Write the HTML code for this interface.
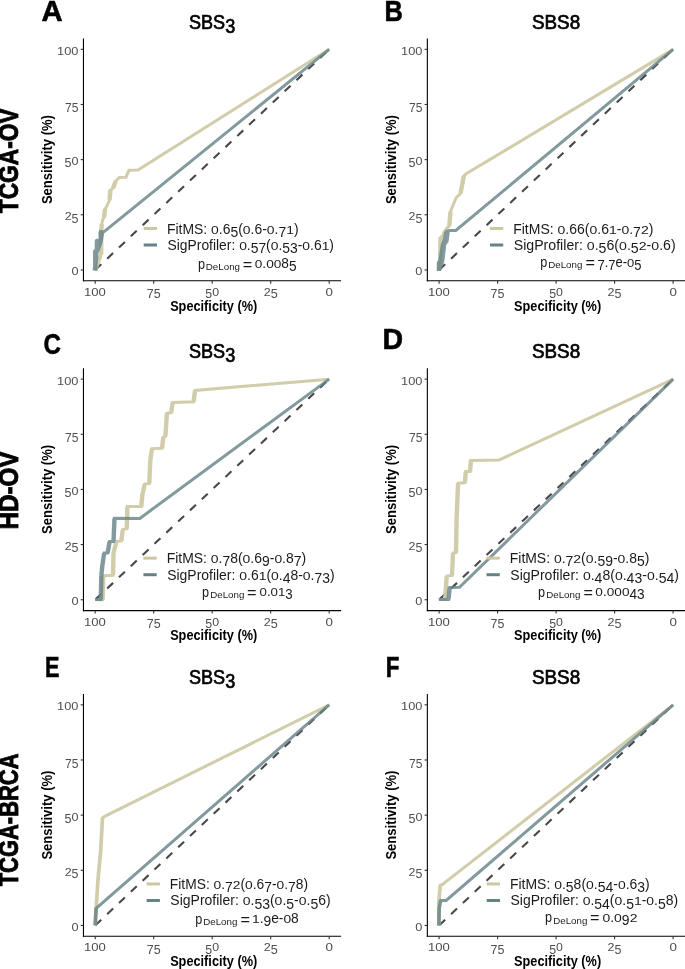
<!DOCTYPE html><html><head><meta charset="utf-8"><style>html,body{margin:0;padding:0;background:#fff}svg{display:block}text{font-kerning:none}</style></head><body><svg width="685" height="969" viewBox="0 0 685 969"><rect width="685" height="969" fill="#fff"/><line x1="83.45" y1="38.4" x2="83.45" y2="281.35" stroke="#000" stroke-width="1.1"/>
<line x1="82.9" y1="280.8" x2="341.1" y2="280.8" stroke="#000" stroke-width="1.1"/>
<line x1="80.7" y1="269.95" x2="83.45" y2="269.95" stroke="#333" stroke-width="1.1"/>
<line x1="95.20" y1="280.8" x2="95.20" y2="283.7" stroke="#333" stroke-width="1.1"/>
<line x1="80.7" y1="214.79" x2="83.45" y2="214.79" stroke="#333" stroke-width="1.1"/>
<line x1="153.70" y1="280.8" x2="153.70" y2="283.7" stroke="#333" stroke-width="1.1"/>
<line x1="80.7" y1="159.63" x2="83.45" y2="159.63" stroke="#333" stroke-width="1.1"/>
<line x1="212.20" y1="280.8" x2="212.20" y2="283.7" stroke="#333" stroke-width="1.1"/>
<line x1="80.7" y1="104.48" x2="83.45" y2="104.48" stroke="#333" stroke-width="1.1"/>
<line x1="270.70" y1="280.8" x2="270.70" y2="283.7" stroke="#333" stroke-width="1.1"/>
<line x1="80.7" y1="49.32" x2="83.45" y2="49.32" stroke="#333" stroke-width="1.1"/>
<line x1="329.20" y1="280.8" x2="329.20" y2="283.7" stroke="#333" stroke-width="1.1"/>
<line x1="95.20" y1="269.95" x2="329.20" y2="49.32" stroke="#484848" stroke-width="2.1" stroke-dasharray="8.13 8.13" stroke-dashoffset="16.07"/>
<line x1="427.34999999999997" y1="38.4" x2="427.34999999999997" y2="281.35" stroke="#000" stroke-width="1.1"/>
<line x1="426.79999999999995" y1="280.8" x2="685.0" y2="280.8" stroke="#000" stroke-width="1.1"/>
<line x1="424.59999999999997" y1="269.95" x2="427.34999999999997" y2="269.95" stroke="#333" stroke-width="1.1"/>
<line x1="439.10" y1="280.8" x2="439.10" y2="283.7" stroke="#333" stroke-width="1.1"/>
<line x1="424.59999999999997" y1="214.79" x2="427.34999999999997" y2="214.79" stroke="#333" stroke-width="1.1"/>
<line x1="497.60" y1="280.8" x2="497.60" y2="283.7" stroke="#333" stroke-width="1.1"/>
<line x1="424.59999999999997" y1="159.63" x2="427.34999999999997" y2="159.63" stroke="#333" stroke-width="1.1"/>
<line x1="556.10" y1="280.8" x2="556.10" y2="283.7" stroke="#333" stroke-width="1.1"/>
<line x1="424.59999999999997" y1="104.48" x2="427.34999999999997" y2="104.48" stroke="#333" stroke-width="1.1"/>
<line x1="614.60" y1="280.8" x2="614.60" y2="283.7" stroke="#333" stroke-width="1.1"/>
<line x1="424.59999999999997" y1="49.32" x2="427.34999999999997" y2="49.32" stroke="#333" stroke-width="1.1"/>
<line x1="673.10" y1="280.8" x2="673.10" y2="283.7" stroke="#333" stroke-width="1.1"/>
<line x1="439.10" y1="269.95" x2="673.10" y2="49.32" stroke="#484848" stroke-width="2.1" stroke-dasharray="8.13 8.13" stroke-dashoffset="16.07"/>
<line x1="83.45" y1="368.2" x2="83.45" y2="611.1500000000001" stroke="#000" stroke-width="1.1"/>
<line x1="82.9" y1="610.6" x2="341.1" y2="610.6" stroke="#000" stroke-width="1.1"/>
<line x1="80.7" y1="599.75" x2="83.45" y2="599.75" stroke="#333" stroke-width="1.1"/>
<line x1="95.20" y1="610.6" x2="95.20" y2="613.5" stroke="#333" stroke-width="1.1"/>
<line x1="80.7" y1="544.59" x2="83.45" y2="544.59" stroke="#333" stroke-width="1.1"/>
<line x1="153.70" y1="610.6" x2="153.70" y2="613.5" stroke="#333" stroke-width="1.1"/>
<line x1="80.7" y1="489.44" x2="83.45" y2="489.44" stroke="#333" stroke-width="1.1"/>
<line x1="212.20" y1="610.6" x2="212.20" y2="613.5" stroke="#333" stroke-width="1.1"/>
<line x1="80.7" y1="434.28" x2="83.45" y2="434.28" stroke="#333" stroke-width="1.1"/>
<line x1="270.70" y1="610.6" x2="270.70" y2="613.5" stroke="#333" stroke-width="1.1"/>
<line x1="80.7" y1="379.12" x2="83.45" y2="379.12" stroke="#333" stroke-width="1.1"/>
<line x1="329.20" y1="610.6" x2="329.20" y2="613.5" stroke="#333" stroke-width="1.1"/>
<line x1="95.20" y1="599.75" x2="329.20" y2="379.12" stroke="#484848" stroke-width="2.1" stroke-dasharray="8.13 8.13" stroke-dashoffset="16.07"/>
<line x1="427.34999999999997" y1="368.2" x2="427.34999999999997" y2="611.1500000000001" stroke="#000" stroke-width="1.1"/>
<line x1="426.79999999999995" y1="610.6" x2="685.0" y2="610.6" stroke="#000" stroke-width="1.1"/>
<line x1="424.59999999999997" y1="599.75" x2="427.34999999999997" y2="599.75" stroke="#333" stroke-width="1.1"/>
<line x1="439.10" y1="610.6" x2="439.10" y2="613.5" stroke="#333" stroke-width="1.1"/>
<line x1="424.59999999999997" y1="544.59" x2="427.34999999999997" y2="544.59" stroke="#333" stroke-width="1.1"/>
<line x1="497.60" y1="610.6" x2="497.60" y2="613.5" stroke="#333" stroke-width="1.1"/>
<line x1="424.59999999999997" y1="489.44" x2="427.34999999999997" y2="489.44" stroke="#333" stroke-width="1.1"/>
<line x1="556.10" y1="610.6" x2="556.10" y2="613.5" stroke="#333" stroke-width="1.1"/>
<line x1="424.59999999999997" y1="434.28" x2="427.34999999999997" y2="434.28" stroke="#333" stroke-width="1.1"/>
<line x1="614.60" y1="610.6" x2="614.60" y2="613.5" stroke="#333" stroke-width="1.1"/>
<line x1="424.59999999999997" y1="379.12" x2="427.34999999999997" y2="379.12" stroke="#333" stroke-width="1.1"/>
<line x1="673.10" y1="610.6" x2="673.10" y2="613.5" stroke="#333" stroke-width="1.1"/>
<line x1="439.10" y1="599.75" x2="673.10" y2="379.12" stroke="#484848" stroke-width="2.1" stroke-dasharray="8.13 8.13" stroke-dashoffset="16.07"/>
<line x1="83.45" y1="693.9" x2="83.45" y2="936.85" stroke="#000" stroke-width="1.1"/>
<line x1="82.9" y1="936.3" x2="341.1" y2="936.3" stroke="#000" stroke-width="1.1"/>
<line x1="80.7" y1="925.45" x2="83.45" y2="925.45" stroke="#333" stroke-width="1.1"/>
<line x1="95.20" y1="936.3" x2="95.20" y2="939.2" stroke="#333" stroke-width="1.1"/>
<line x1="80.7" y1="870.29" x2="83.45" y2="870.29" stroke="#333" stroke-width="1.1"/>
<line x1="153.70" y1="936.3" x2="153.70" y2="939.2" stroke="#333" stroke-width="1.1"/>
<line x1="80.7" y1="815.13" x2="83.45" y2="815.13" stroke="#333" stroke-width="1.1"/>
<line x1="212.20" y1="936.3" x2="212.20" y2="939.2" stroke="#333" stroke-width="1.1"/>
<line x1="80.7" y1="759.98" x2="83.45" y2="759.98" stroke="#333" stroke-width="1.1"/>
<line x1="270.70" y1="936.3" x2="270.70" y2="939.2" stroke="#333" stroke-width="1.1"/>
<line x1="80.7" y1="704.82" x2="83.45" y2="704.82" stroke="#333" stroke-width="1.1"/>
<line x1="329.20" y1="936.3" x2="329.20" y2="939.2" stroke="#333" stroke-width="1.1"/>
<line x1="95.20" y1="925.45" x2="329.20" y2="704.82" stroke="#484848" stroke-width="2.1" stroke-dasharray="8.13 8.13" stroke-dashoffset="16.07"/>
<line x1="427.34999999999997" y1="693.9" x2="427.34999999999997" y2="936.85" stroke="#000" stroke-width="1.1"/>
<line x1="426.79999999999995" y1="936.3" x2="685.0" y2="936.3" stroke="#000" stroke-width="1.1"/>
<line x1="424.59999999999997" y1="925.45" x2="427.34999999999997" y2="925.45" stroke="#333" stroke-width="1.1"/>
<line x1="439.10" y1="936.3" x2="439.10" y2="939.2" stroke="#333" stroke-width="1.1"/>
<line x1="424.59999999999997" y1="870.29" x2="427.34999999999997" y2="870.29" stroke="#333" stroke-width="1.1"/>
<line x1="497.60" y1="936.3" x2="497.60" y2="939.2" stroke="#333" stroke-width="1.1"/>
<line x1="424.59999999999997" y1="815.13" x2="427.34999999999997" y2="815.13" stroke="#333" stroke-width="1.1"/>
<line x1="556.10" y1="936.3" x2="556.10" y2="939.2" stroke="#333" stroke-width="1.1"/>
<line x1="424.59999999999997" y1="759.98" x2="427.34999999999997" y2="759.98" stroke="#333" stroke-width="1.1"/>
<line x1="614.60" y1="936.3" x2="614.60" y2="939.2" stroke="#333" stroke-width="1.1"/>
<line x1="424.59999999999997" y1="704.82" x2="427.34999999999997" y2="704.82" stroke="#333" stroke-width="1.1"/>
<line x1="673.10" y1="936.3" x2="673.10" y2="939.2" stroke="#333" stroke-width="1.1"/>
<line x1="439.10" y1="925.45" x2="673.10" y2="704.82" stroke="#484848" stroke-width="2.1" stroke-dasharray="8.13 8.13" stroke-dashoffset="16.07"/>
<path d="M95.20,270.00 L97.50,263.60 L100.20,256.00 L101.20,254.50 L101.20,231.00 L101.80,224.00 L102.60,220.00 L104.00,217.50 L105.10,209.00 L106.80,206.00 L109.50,200.00 L110.40,190.00 L113.00,188.30 L115.70,181.00 L119.50,177.40 L126.00,177.20 L129.00,170.30 L138.00,170.00 L329.20,49.35 M94.50,270.00 L96.80,263.60 M95.90,270.00 L98.20,263.60 M96.80,263.60 L99.50,256.00 M98.20,263.60 L100.90,256.00 M100.50,254.50 L100.50,231.00 M101.90,254.50 L101.90,231.00 M100.50,231.00 L101.10,224.00 M101.90,231.00 L102.50,224.00 M103.30,217.50 L104.40,209.00 M104.70,217.50 L105.80,209.00 M108.80,200.00 L109.70,190.00 M110.20,200.00 L111.10,190.00 M112.30,188.30 L115.00,181.00 M113.70,188.30 L116.40,181.00" fill="none" stroke="#ccc7a0" stroke-width="3" stroke-linejoin="miter" stroke-opacity="0.9"/>
<path d="M438.90,270.00 L440.00,262.00 L440.60,237.50 L442.50,236.00 L444.00,232.00 L447.00,228.00 L449.30,226.00 L450.50,211.50 L452.50,206.50 L456.30,197.50 L460.50,193.50 L462.10,185.00 L463.80,176.00 L466.20,173.80 L673.20,49.35 M438.20,270.00 L439.30,262.00 M439.60,270.00 L440.70,262.00 M439.30,262.00 L439.90,237.50 M440.70,262.00 L441.30,237.50 M448.60,226.00 L449.80,211.50 M450.00,226.00 L451.20,211.50 M459.80,193.50 L461.40,185.00 M461.20,193.50 L462.80,185.00 M461.40,185.00 L463.10,176.00 M462.80,185.00 L464.50,176.00" fill="none" stroke="#ccc7a0" stroke-width="3" stroke-linejoin="miter" stroke-opacity="0.9"/>
<path d="M95.20,599.75 L102.70,599.75 L103.20,575.70 L113.00,575.20 L113.50,553.10 L116.50,541.40 L121.40,540.90 L122.80,529.60 L126.80,528.70 L127.40,506.50 L141.30,506.50 L142.30,495.00 L144.80,484.00 L149.30,483.50 L150.30,460.00 L152.00,448.60 L162.00,448.30 L163.30,437.10 L165.40,436.40 L166.90,413.30 L171.20,412.60 L172.70,402.50 L193.60,401.80 L195.00,390.50 L329.20,379.15 M102.00,599.75 L102.50,575.70 M103.40,599.75 L103.90,575.70 M112.30,575.20 L112.80,553.10 M113.70,575.20 L114.20,553.10 M112.80,553.10 L115.80,541.40 M114.20,553.10 L117.20,541.40 M120.70,540.90 L122.10,529.60 M122.10,540.90 L123.50,529.60 M126.10,528.70 L126.70,506.50 M127.50,528.70 L128.10,506.50 M140.60,506.50 L141.60,495.00 M142.00,506.50 L143.00,495.00 M141.60,495.00 L144.10,484.00 M143.00,495.00 L145.50,484.00 M148.60,483.50 L149.60,460.00 M150.00,483.50 L151.00,460.00 M149.60,460.00 L151.30,448.60 M151.00,460.00 L152.70,448.60 M161.30,448.30 L162.60,437.10 M162.70,448.30 L164.00,437.10 M164.70,436.40 L166.20,413.30 M166.10,436.40 L167.60,413.30 M170.50,412.60 L172.00,402.50 M171.90,412.60 L173.40,402.50 M192.90,401.80 L194.30,390.50 M194.30,401.80 L195.70,390.50" fill="none" stroke="#ccc7a0" stroke-width="3" stroke-linejoin="miter" stroke-opacity="0.9"/>
<path d="M438.90,599.60 L445.00,599.50 L446.80,576.00 L452.00,575.50 L453.00,553.00 L456.00,552.40 L456.60,518.40 L458.10,483.40 L464.90,482.60 L465.80,471.50 L470.00,471.50 L470.90,460.40 L499.00,460.10 L673.20,379.15 M444.30,599.50 L446.10,576.00 M445.70,599.50 L447.50,576.00 M451.30,575.50 L452.30,553.00 M452.70,575.50 L453.70,553.00 M455.30,552.40 L455.90,518.40 M456.70,552.40 L457.30,518.40 M455.90,518.40 L457.40,483.40 M457.30,518.40 L458.80,483.40 M464.20,482.60 L465.10,471.50 M465.60,482.60 L466.50,471.50 M469.30,471.50 L470.20,460.40 M470.70,471.50 L471.60,460.40" fill="none" stroke="#ccc7a0" stroke-width="3" stroke-linejoin="miter" stroke-opacity="0.9"/>
<path d="M95.20,925.45 L96.10,908.40 L98.00,879.50 L100.70,850.50 L102.50,817.90 L105.20,816.10 L329.20,704.85 M94.85,925.45 L95.75,908.40 M95.55,925.45 L96.45,908.40 M95.75,908.40 L97.65,879.50 M96.45,908.40 L98.35,879.50 M97.65,879.50 L100.35,850.50 M98.35,879.50 L101.05,850.50 M100.35,850.50 L102.15,817.90 M101.05,850.50 L102.85,817.90" fill="none" stroke="#ccc7a0" stroke-width="3" stroke-linejoin="miter" stroke-opacity="0.9"/>
<path d="M438.90,925.45 L438.70,903.60 L440.30,885.20 L443.00,884.20 L444.10,883.10 L673.20,704.85 M438.55,925.45 L438.35,903.60 M439.25,925.45 L439.05,903.60 M438.35,903.60 L439.95,885.20 M439.05,903.60 L440.65,885.20" fill="none" stroke="#ccc7a0" stroke-width="3" stroke-linejoin="miter" stroke-opacity="0.9"/>
<path d="M95.20,270.50 L95.20,250.50 L96.90,250.30 L96.90,240.30 L100.70,240.00 L100.70,231.50 L103.20,232.00 M94.50,270.50 L94.50,250.50 M95.90,270.50 L95.90,250.50 M96.20,250.30 L96.20,240.30 M97.60,250.30 L97.60,240.30 M100.00,240.00 L100.00,231.50 M101.40,240.00 L101.40,231.50 M94.90,270.50 L96.40,252.70 L100.40,242.30 L101.90,233.40 L103.20,232.30 L329.20,49.35 M94.20,270.50 L95.70,252.70 M95.60,270.50 L97.10,252.70 M95.70,252.70 L99.70,242.30 M97.10,252.70 L101.10,242.30 M99.70,242.30 L101.20,233.40 M101.10,242.30 L102.60,233.40" fill="none" stroke="#668288" stroke-width="3" stroke-linejoin="miter" stroke-opacity="0.82"/>
<path d="M439.00,271.00 L439.00,262.00 L440.30,261.80 L441.90,252.10 L442.80,245.60 L444.60,240.80 L446.50,231.70 L449.50,230.50 M438.30,271.00 L438.30,262.00 M439.70,271.00 L439.70,262.00 M439.60,261.80 L441.20,252.10 M441.00,261.80 L442.60,252.10 M441.20,252.10 L442.10,245.60 M442.60,252.10 L443.50,245.60 M442.10,245.60 L443.90,240.80 M443.50,245.60 L445.30,240.80 M443.90,240.80 L445.80,231.70 M445.30,240.80 L447.20,231.70 M439.50,269.30 L442.20,260.70 L444.00,245.60 L446.20,242.40 L447.50,232.70 L449.50,230.50 L455.80,230.50 L673.20,49.35 M438.80,269.30 L441.50,260.70 M440.20,269.30 L442.90,260.70 M441.50,260.70 L443.30,245.60 M442.90,260.70 L444.70,245.60 M445.50,242.40 L446.80,232.70 M446.90,242.40 L448.20,232.70" fill="none" stroke="#668288" stroke-width="3" stroke-linejoin="miter" stroke-opacity="0.82"/>
<path d="M95.20,599.50 L100.80,599.50 L101.30,575.70 L102.30,565.90 L104.20,553.10 L107.60,553.10 L109.60,541.40 L113.50,541.40 L114.50,518.30 L139.80,518.40 L329.20,379.15 M100.10,599.50 L100.60,575.70 M101.50,599.50 L102.00,575.70 M100.60,575.70 L101.60,565.90 M102.00,575.70 L103.00,565.90 M101.60,565.90 L103.50,553.10 M103.00,565.90 L104.90,553.10 M106.90,553.10 L108.90,541.40 M108.30,553.10 L110.30,541.40 M112.80,541.40 L113.80,518.30 M114.20,541.40 L115.20,518.30" fill="none" stroke="#668288" stroke-width="3" stroke-linejoin="miter" stroke-opacity="0.82"/>
<path d="M438.90,599.40 L448.50,599.40 L449.70,587.40 L459.50,587.20 L673.20,379.15 M447.80,599.40 L449.00,587.40 M449.20,599.40 L450.40,587.40" fill="none" stroke="#668288" stroke-width="3" stroke-linejoin="miter" stroke-opacity="0.82"/>
<path d="M95.20,925.45 L96.10,908.40 L97.00,907.50 L329.20,704.85 M94.90,925.45 L95.80,908.40 M95.50,925.45 L96.40,908.40" fill="none" stroke="#668288" stroke-width="3" stroke-linejoin="miter" stroke-opacity="0.82"/>
<path d="M438.90,925.45 L439.20,908.00 L440.80,900.40 L446.20,900.40 L673.20,704.85 M438.60,925.45 L438.90,908.00 M439.20,925.45 L439.50,908.00 M438.90,908.00 L440.50,900.40 M439.50,908.00 L441.10,900.40" fill="none" stroke="#668288" stroke-width="3" stroke-linejoin="miter" stroke-opacity="0.82"/>
<line x1="143.70" y1="228.45" x2="157.00" y2="228.45" stroke="#ccc7a0" stroke-width="3"/>
<line x1="143.70" y1="245.0" x2="157.00" y2="245.0" stroke="#668288" stroke-width="3"/>
<line x1="489.95" y1="228.45" x2="503.25" y2="228.45" stroke="#ccc7a0" stroke-width="3"/>
<line x1="489.95" y1="245.0" x2="503.25" y2="245.0" stroke="#668288" stroke-width="3"/>
<line x1="143.40" y1="558.15" x2="156.70" y2="558.15" stroke="#ccc7a0" stroke-width="3"/>
<line x1="143.40" y1="574.7" x2="156.70" y2="574.7" stroke="#668288" stroke-width="3"/>
<line x1="486.50" y1="558.15" x2="499.80" y2="558.15" stroke="#ccc7a0" stroke-width="3"/>
<line x1="486.50" y1="574.7" x2="499.80" y2="574.7" stroke="#668288" stroke-width="3"/>
<line x1="146.60" y1="883.95" x2="159.90" y2="883.95" stroke="#ccc7a0" stroke-width="3"/>
<line x1="146.60" y1="900.5" x2="159.90" y2="900.5" stroke="#668288" stroke-width="3"/>
<line x1="486.70" y1="883.95" x2="500.00" y2="883.95" stroke="#ccc7a0" stroke-width="3"/>
<line x1="486.70" y1="900.5" x2="500.00" y2="900.5" stroke="#668288" stroke-width="3"/>
<g opacity="0.999"><g transform="translate(41.57 20.80) scale(0.9674 1)" font-family="'Liberation Sans', sans-serif" font-weight="bold" font-size="30.2" fill="#000" stroke="#000" stroke-width="0.6"><text x="0.00" y="0" xml:space="preserve">A</text></g>
<g transform="translate(384.40 20.70) scale(0.8416 1)" font-family="'Liberation Sans', sans-serif" font-weight="bold" font-size="30.2" fill="#000" stroke="#000" stroke-width="0.6"><text x="0.00" y="0" xml:space="preserve">B</text></g>
<g transform="translate(43.61 353.80) scale(0.8002 1)" font-family="'Liberation Sans', sans-serif" font-weight="bold" font-size="30.2" fill="#000" stroke="#000" stroke-width="0.6"><text x="0.00" y="0" xml:space="preserve">C</text></g>
<g transform="translate(382.49 349.10) scale(0.9449 1)" font-family="'Liberation Sans', sans-serif" font-weight="bold" font-size="30.2" fill="#000" stroke="#000" stroke-width="0.6"><text x="0.00" y="0" xml:space="preserve">D</text></g>
<g transform="translate(44.95 676.50) scale(0.7201 1)" font-family="'Liberation Sans', sans-serif" font-weight="bold" font-size="30.2" fill="#000" stroke="#000" stroke-width="0.6"><text x="0.00" y="0" xml:space="preserve">E</text></g>
<g transform="translate(385.80 676.50) scale(0.7441 1)" font-family="'Liberation Sans', sans-serif" font-weight="bold" font-size="30.2" fill="#000" stroke="#000" stroke-width="0.6"><text x="0.00" y="0" xml:space="preserve">F</text></g>
<g transform="translate(17.85 213.21) rotate(-90) scale(0.8334 1)" font-family="'Liberation Sans', sans-serif" font-weight="bold" font-size="27.3" fill="#000" stroke="#000" stroke-width="0.9"><text x="0.00 16.68 36.39 57.63 77.34 86.43 107.67" y="0" xml:space="preserve">TCGA-OV</text></g>
<g transform="translate(17.65 529.57) rotate(-90) scale(0.8889 1)" font-family="'Liberation Sans', sans-serif" font-weight="bold" font-size="27.3" fill="#000" stroke="#000" stroke-width="0.9"><text x="0.00 19.72 39.43 48.52 69.76" y="0" xml:space="preserve">HD-OV</text></g>
<g transform="translate(17.55 886.30) rotate(-90) scale(0.8036 1)" font-family="'Liberation Sans', sans-serif" font-weight="bold" font-size="27.3" fill="#000" stroke="#000" stroke-width="0.9"><text x="0.00 16.68 36.39 57.63 77.34 86.43 106.15 125.86 145.58" y="0" xml:space="preserve">TCGA-BRCA</text></g>
<g transform="translate(188.98 28.70) scale(0.9268 1)" font-family="'Liberation Sans', sans-serif" font-weight="normal" font-size="19.5" fill="#000" stroke="#000" stroke-width="0.7"><text x="0.00 13.01 26.01" y="0" xml:space="preserve">SBS</text><text x="39.02" y="4.16">3</text></g>
<g transform="translate(170.13 310.50) scale(0.9103 1)" font-family="'Liberation Sans', sans-serif" font-weight="bold" font-size="14" fill="#000"><text x="0.00 9.34 17.89 25.68 33.46 37.35 42.01 45.90 53.69 57.58 62.24 70.03 73.92 78.58 91.03" y="0" xml:space="preserve">Specificity (%)</text></g>
<g transform="translate(51.60 204.08) rotate(-90) scale(0.9303 1)" font-family="'Liberation Sans', sans-serif" font-weight="bold" font-size="14" fill="#000"><text x="0.00 9.34 17.12 25.68 33.46 37.35 42.01 45.90 53.69 57.58 62.24 70.03 73.92 78.58 91.03" y="0" xml:space="preserve">Sensitivity (%)</text></g>
<g transform="translate(71.40 275.35) scale(0.9741 1)" font-family="'Liberation Sans', sans-serif" font-weight="normal" font-size="13.1" fill="#4f4f4f"><text transform="translate(0.00 0) scale(1 0.78)" y="0">0</text></g>
<g transform="translate(64.67 220.19) scale(0.9504 1)" font-family="'Liberation Sans', sans-serif" font-weight="normal" font-size="13.1" fill="#4f4f4f"><text transform="translate(0.00 0) scale(1 0.78)" y="0">2</text><text x="7.29" y="2.43">5</text></g>
<g transform="translate(64.50 165.03) scale(0.9605 1)" font-family="'Liberation Sans', sans-serif" font-weight="normal" font-size="13.1" fill="#4f4f4f"><text x="0.00" y="2.43">5</text><text transform="translate(7.29 0) scale(1 0.78)" y="0">0</text></g>
<g transform="translate(65.08 109.88) scale(0.9214 1)" font-family="'Liberation Sans', sans-serif" font-weight="normal" font-size="13.1" fill="#4f4f4f"><text x="0.00" y="2.43">7</text><text x="7.29" y="2.43">5</text></g>
<g transform="translate(57.12 54.72) scale(0.9780 1)" font-family="'Liberation Sans', sans-serif" font-weight="normal" font-size="13.1" fill="#4f4f4f"><text transform="translate(0.00 0) scale(1 0.78)" y="0">1</text><text transform="translate(7.29 0) scale(1 0.78)" y="0">0</text><text transform="translate(14.57 0) scale(1 0.78)" y="0">0</text></g>
<g transform="translate(84.00 295.70) scale(1.0026 1)" font-family="'Liberation Sans', sans-serif" font-weight="normal" font-size="13.1" fill="#4f4f4f"><text transform="translate(0.00 0) scale(1 0.78)" y="0">1</text><text transform="translate(7.29 0) scale(1 0.78)" y="0">0</text><text transform="translate(14.57 0) scale(1 0.78)" y="0">0</text></g>
<g transform="translate(146.71 295.70) scale(0.9513 1)" font-family="'Liberation Sans', sans-serif" font-weight="normal" font-size="13.1" fill="#4f4f4f"><text x="0.00" y="2.43">7</text><text x="7.29" y="2.43">5</text></g>
<g transform="translate(205.30 295.70) scale(0.9457 1)" font-family="'Liberation Sans', sans-serif" font-weight="normal" font-size="13.1" fill="#4f4f4f"><text x="0.00" y="2.43">5</text><text transform="translate(7.29 0) scale(1 0.78)" y="0">0</text></g>
<g transform="translate(263.67 295.70) scale(0.9579 1)" font-family="'Liberation Sans', sans-serif" font-weight="normal" font-size="13.1" fill="#4f4f4f"><text transform="translate(0.00 0) scale(1 0.78)" y="0">2</text><text x="7.29" y="2.43">5</text></g>
<g transform="translate(325.48 295.70) scale(1.0220 1)" font-family="'Liberation Sans', sans-serif" font-weight="normal" font-size="13.1" fill="#4f4f4f"><text transform="translate(0.00 0) scale(1 0.78)" y="0">0</text></g>
<g transform="translate(166.96 233.50) scale(0.9128 1)" font-family="'Liberation Sans', sans-serif" font-weight="normal" font-size="15.26" fill="#1a1a1a"><text x="0.00 9.32 12.71 16.95 29.66 39.84 44.08" y="0" xml:space="preserve">FitMS: </text><text transform="translate(48.32 0) scale(1 0.7)" y="0">0</text><text x="56.81 61.05" y="0" xml:space="preserve">.6</text><text x="69.53" y="3.25">5</text><text x="78.02" y="0" xml:space="preserve">(</text><text transform="translate(83.10 0) scale(1 0.7)" y="0">0</text><text x="91.59 95.83 104.32" y="0" xml:space="preserve">.6-</text><text transform="translate(109.40 0) scale(1 0.7)" y="0">0</text><text x="117.88" y="0" xml:space="preserve">.</text><text x="122.12" y="3.25">7</text><text transform="translate(130.61 0) scale(1 0.7)" y="0">1</text><text x="139.10" y="0" xml:space="preserve">)</text></g>
<g transform="translate(167.47 249.80) scale(0.9087 1)" font-family="'Liberation Sans', sans-serif" font-weight="normal" font-size="15.26" fill="#1a1a1a"><text x="0.00 10.18 13.57 22.06 32.23 37.32 45.80 50.04 53.43 56.82 65.31 70.39 74.63" y="0" xml:space="preserve">SigProfiler: </text><text transform="translate(78.87 0) scale(1 0.7)" y="0">0</text><text x="87.36" y="0" xml:space="preserve">.</text><text x="91.60" y="3.25">5</text><text x="100.08" y="3.25">7</text><text x="108.57" y="0" xml:space="preserve">(</text><text transform="translate(113.65 0) scale(1 0.7)" y="0">0</text><text x="122.14" y="0" xml:space="preserve">.</text><text x="126.38" y="3.25">5</text><text x="134.87" y="3.25">3</text><text x="143.35" y="0" xml:space="preserve">-</text><text transform="translate(148.43 0) scale(1 0.7)" y="0">0</text><text x="156.92 161.16" y="0" xml:space="preserve">.6</text><text transform="translate(169.65 0) scale(1 0.7)" y="0">1</text><text x="178.14" y="0" xml:space="preserve">)</text></g>
<g transform="translate(197.88 268.70) scale(0.9054 1)" font-family="'Liberation Sans', sans-serif" font-weight="normal" font-size="14.0" fill="#1a1a1a"><text x="0.00" y="0" xml:space="preserve">p</text></g>
<g transform="translate(205.80 269.90) scale(1.0980 1)" font-family="'Liberation Sans', sans-serif" font-weight="normal" font-size="8.9" fill="#222"><text x="0.00 6.43 11.38 16.33 21.28 26.23" y="0" xml:space="preserve">DeLong</text></g>
<g transform="translate(242.71 269.60) scale(1.0656 1)" font-family="'Liberation Sans', sans-serif" font-weight="normal" font-size="15.26" fill="#1a1a1a"><text x="0.00" y="0" xml:space="preserve">=</text></g>
<g transform="translate(254.77 268.10) scale(0.8957 1)" font-family="'Liberation Sans', sans-serif" font-weight="normal" font-size="15.26" fill="#1a1a1a"><text transform="translate(0.00 0) scale(1 0.7)" y="0">0</text><text x="8.49" y="0" xml:space="preserve">.</text><text transform="translate(12.73 0) scale(1 0.7)" y="0">0</text><text transform="translate(21.21 0) scale(1 0.7)" y="0">0</text><text x="29.70" y="0" xml:space="preserve">8</text><text x="38.19" y="3.25">5</text></g>
<g transform="translate(531.94 28.70) scale(0.9682 1)" font-family="'Liberation Sans', sans-serif" font-weight="normal" font-size="19.5" fill="#000" stroke="#000" stroke-width="0.7"><text x="0.00 13.01 26.01 39.02" y="0" xml:space="preserve">SBS8</text></g>
<g transform="translate(514.03 310.50) scale(0.9103 1)" font-family="'Liberation Sans', sans-serif" font-weight="bold" font-size="14" fill="#000"><text x="0.00 9.34 17.89 25.68 33.46 37.35 42.01 45.90 53.69 57.58 62.24 70.03 73.92 78.58 91.03" y="0" xml:space="preserve">Specificity (%)</text></g>
<g transform="translate(395.50 204.08) rotate(-90) scale(0.9303 1)" font-family="'Liberation Sans', sans-serif" font-weight="bold" font-size="14" fill="#000"><text x="0.00 9.34 17.12 25.68 33.46 37.35 42.01 45.90 53.69 57.58 62.24 70.03 73.92 78.58 91.03" y="0" xml:space="preserve">Sensitivity (%)</text></g>
<g transform="translate(415.30 275.35) scale(0.9741 1)" font-family="'Liberation Sans', sans-serif" font-weight="normal" font-size="13.1" fill="#4f4f4f"><text transform="translate(0.00 0) scale(1 0.78)" y="0">0</text></g>
<g transform="translate(408.57 220.19) scale(0.9504 1)" font-family="'Liberation Sans', sans-serif" font-weight="normal" font-size="13.1" fill="#4f4f4f"><text transform="translate(0.00 0) scale(1 0.78)" y="0">2</text><text x="7.29" y="2.43">5</text></g>
<g transform="translate(408.40 165.03) scale(0.9605 1)" font-family="'Liberation Sans', sans-serif" font-weight="normal" font-size="13.1" fill="#4f4f4f"><text x="0.00" y="2.43">5</text><text transform="translate(7.29 0) scale(1 0.78)" y="0">0</text></g>
<g transform="translate(408.98 109.88) scale(0.9214 1)" font-family="'Liberation Sans', sans-serif" font-weight="normal" font-size="13.1" fill="#4f4f4f"><text x="0.00" y="2.43">7</text><text x="7.29" y="2.43">5</text></g>
<g transform="translate(401.02 54.72) scale(0.9780 1)" font-family="'Liberation Sans', sans-serif" font-weight="normal" font-size="13.1" fill="#4f4f4f"><text transform="translate(0.00 0) scale(1 0.78)" y="0">1</text><text transform="translate(7.29 0) scale(1 0.78)" y="0">0</text><text transform="translate(14.57 0) scale(1 0.78)" y="0">0</text></g>
<g transform="translate(427.90 295.70) scale(1.0026 1)" font-family="'Liberation Sans', sans-serif" font-weight="normal" font-size="13.1" fill="#4f4f4f"><text transform="translate(0.00 0) scale(1 0.78)" y="0">1</text><text transform="translate(7.29 0) scale(1 0.78)" y="0">0</text><text transform="translate(14.57 0) scale(1 0.78)" y="0">0</text></g>
<g transform="translate(490.61 295.70) scale(0.9513 1)" font-family="'Liberation Sans', sans-serif" font-weight="normal" font-size="13.1" fill="#4f4f4f"><text x="0.00" y="2.43">7</text><text x="7.29" y="2.43">5</text></g>
<g transform="translate(549.20 295.70) scale(0.9457 1)" font-family="'Liberation Sans', sans-serif" font-weight="normal" font-size="13.1" fill="#4f4f4f"><text x="0.00" y="2.43">5</text><text transform="translate(7.29 0) scale(1 0.78)" y="0">0</text></g>
<g transform="translate(607.57 295.70) scale(0.9579 1)" font-family="'Liberation Sans', sans-serif" font-weight="normal" font-size="13.1" fill="#4f4f4f"><text transform="translate(0.00 0) scale(1 0.78)" y="0">2</text><text x="7.29" y="2.43">5</text></g>
<g transform="translate(669.38 295.70) scale(1.0220 1)" font-family="'Liberation Sans', sans-serif" font-weight="normal" font-size="13.1" fill="#4f4f4f"><text transform="translate(0.00 0) scale(1 0.78)" y="0">0</text></g>
<g transform="translate(513.20 233.50) scale(0.9181 1)" font-family="'Liberation Sans', sans-serif" font-weight="normal" font-size="15.26" fill="#1a1a1a"><text x="0.00 9.32 12.71 16.95 29.66 39.84 44.08" y="0" xml:space="preserve">FitMS: </text><text transform="translate(48.32 0) scale(1 0.7)" y="0">0</text><text x="56.81 61.05 69.53 78.02" y="0" xml:space="preserve">.66(</text><text transform="translate(83.10 0) scale(1 0.7)" y="0">0</text><text x="91.59 95.83" y="0" xml:space="preserve">.6</text><text transform="translate(104.32 0) scale(1 0.7)" y="0">1</text><text x="112.80" y="0" xml:space="preserve">-</text><text transform="translate(117.88 0) scale(1 0.7)" y="0">0</text><text x="126.37" y="0" xml:space="preserve">.</text><text x="130.61" y="3.25">7</text><text transform="translate(139.10 0) scale(1 0.7)" y="0">2</text><text x="147.59" y="0" xml:space="preserve">)</text></g>
<g transform="translate(513.71 249.80) scale(0.9270 1)" font-family="'Liberation Sans', sans-serif" font-weight="normal" font-size="15.26" fill="#1a1a1a"><text x="0.00 10.18 13.57 22.06 32.23 37.32 45.80 50.04 53.43 56.82 65.31 70.39 74.63" y="0" xml:space="preserve">SigProfiler: </text><text transform="translate(78.87 0) scale(1 0.7)" y="0">0</text><text x="87.36" y="0" xml:space="preserve">.</text><text x="91.60" y="3.25">5</text><text x="100.08 108.57" y="0" xml:space="preserve">6(</text><text transform="translate(113.65 0) scale(1 0.7)" y="0">0</text><text x="122.14" y="0" xml:space="preserve">.</text><text x="126.38" y="3.25">5</text><text transform="translate(134.87 0) scale(1 0.7)" y="0">2</text><text x="143.35" y="0" xml:space="preserve">-</text><text transform="translate(148.43 0) scale(1 0.7)" y="0">0</text><text x="156.92 161.16 169.65" y="0" xml:space="preserve">.6)</text></g>
<g transform="translate(540.28 267.40) scale(0.9054 1)" font-family="'Liberation Sans', sans-serif" font-weight="normal" font-size="14.0" fill="#1a1a1a"><text x="0.00" y="0" xml:space="preserve">p</text></g>
<g transform="translate(548.20 268.10) scale(1.0980 1)" font-family="'Liberation Sans', sans-serif" font-weight="normal" font-size="8.9" fill="#222"><text x="0.00 6.43 11.38 16.33 21.28 26.23" y="0" xml:space="preserve">DeLong</text></g>
<g transform="translate(585.51 268.30) scale(1.0656 1)" font-family="'Liberation Sans', sans-serif" font-weight="normal" font-size="15.26" fill="#1a1a1a"><text x="0.00" y="0" xml:space="preserve">=</text></g>
<g transform="translate(597.43 266.80) scale(0.8523 1)" font-family="'Liberation Sans', sans-serif" font-weight="normal" font-size="15.26" fill="#1a1a1a"><text x="0.00" y="3.25">7</text><text x="8.49" y="0" xml:space="preserve">.</text><text x="12.73" y="3.25">7</text><text x="21.21 29.70" y="0" xml:space="preserve">e-</text><text transform="translate(34.78 0) scale(1 0.7)" y="0">0</text><text x="43.27" y="3.25">5</text></g>
<g transform="translate(188.98 358.10) scale(0.9268 1)" font-family="'Liberation Sans', sans-serif" font-weight="normal" font-size="19.5" fill="#000" stroke="#000" stroke-width="0.7"><text x="0.00 13.01 26.01" y="0" xml:space="preserve">SBS</text><text x="39.02" y="4.16">3</text></g>
<g transform="translate(170.13 640.30) scale(0.9103 1)" font-family="'Liberation Sans', sans-serif" font-weight="bold" font-size="14" fill="#000"><text x="0.00 9.34 17.89 25.68 33.46 37.35 42.01 45.90 53.69 57.58 62.24 70.03 73.92 78.58 91.03" y="0" xml:space="preserve">Specificity (%)</text></g>
<g transform="translate(51.60 533.88) rotate(-90) scale(0.9303 1)" font-family="'Liberation Sans', sans-serif" font-weight="bold" font-size="14" fill="#000"><text x="0.00 9.34 17.12 25.68 33.46 37.35 42.01 45.90 53.69 57.58 62.24 70.03 73.92 78.58 91.03" y="0" xml:space="preserve">Sensitivity (%)</text></g>
<g transform="translate(71.40 605.15) scale(0.9741 1)" font-family="'Liberation Sans', sans-serif" font-weight="normal" font-size="13.1" fill="#4f4f4f"><text transform="translate(0.00 0) scale(1 0.78)" y="0">0</text></g>
<g transform="translate(64.67 549.99) scale(0.9504 1)" font-family="'Liberation Sans', sans-serif" font-weight="normal" font-size="13.1" fill="#4f4f4f"><text transform="translate(0.00 0) scale(1 0.78)" y="0">2</text><text x="7.29" y="2.43">5</text></g>
<g transform="translate(64.50 494.83) scale(0.9605 1)" font-family="'Liberation Sans', sans-serif" font-weight="normal" font-size="13.1" fill="#4f4f4f"><text x="0.00" y="2.43">5</text><text transform="translate(7.29 0) scale(1 0.78)" y="0">0</text></g>
<g transform="translate(65.08 439.68) scale(0.9214 1)" font-family="'Liberation Sans', sans-serif" font-weight="normal" font-size="13.1" fill="#4f4f4f"><text x="0.00" y="2.43">7</text><text x="7.29" y="2.43">5</text></g>
<g transform="translate(57.12 384.52) scale(0.9780 1)" font-family="'Liberation Sans', sans-serif" font-weight="normal" font-size="13.1" fill="#4f4f4f"><text transform="translate(0.00 0) scale(1 0.78)" y="0">1</text><text transform="translate(7.29 0) scale(1 0.78)" y="0">0</text><text transform="translate(14.57 0) scale(1 0.78)" y="0">0</text></g>
<g transform="translate(84.00 625.50) scale(1.0026 1)" font-family="'Liberation Sans', sans-serif" font-weight="normal" font-size="13.1" fill="#4f4f4f"><text transform="translate(0.00 0) scale(1 0.78)" y="0">1</text><text transform="translate(7.29 0) scale(1 0.78)" y="0">0</text><text transform="translate(14.57 0) scale(1 0.78)" y="0">0</text></g>
<g transform="translate(146.71 625.50) scale(0.9513 1)" font-family="'Liberation Sans', sans-serif" font-weight="normal" font-size="13.1" fill="#4f4f4f"><text x="0.00" y="2.43">7</text><text x="7.29" y="2.43">5</text></g>
<g transform="translate(205.30 625.50) scale(0.9457 1)" font-family="'Liberation Sans', sans-serif" font-weight="normal" font-size="13.1" fill="#4f4f4f"><text x="0.00" y="2.43">5</text><text transform="translate(7.29 0) scale(1 0.78)" y="0">0</text></g>
<g transform="translate(263.67 625.50) scale(0.9579 1)" font-family="'Liberation Sans', sans-serif" font-weight="normal" font-size="13.1" fill="#4f4f4f"><text transform="translate(0.00 0) scale(1 0.78)" y="0">2</text><text x="7.29" y="2.43">5</text></g>
<g transform="translate(325.48 625.50) scale(1.0220 1)" font-family="'Liberation Sans', sans-serif" font-weight="normal" font-size="13.1" fill="#4f4f4f"><text transform="translate(0.00 0) scale(1 0.78)" y="0">0</text></g>
<g transform="translate(166.66 563.20) scale(0.9138 1)" font-family="'Liberation Sans', sans-serif" font-weight="normal" font-size="15.26" fill="#1a1a1a"><text x="0.00 9.32 12.71 16.95 29.66 39.84 44.08" y="0" xml:space="preserve">FitMS: </text><text transform="translate(48.32 0) scale(1 0.7)" y="0">0</text><text x="56.81" y="0" xml:space="preserve">.</text><text x="61.05" y="3.25">7</text><text x="69.53 78.02" y="0" xml:space="preserve">8(</text><text transform="translate(83.10 0) scale(1 0.7)" y="0">0</text><text x="91.59 95.83" y="0" xml:space="preserve">.6</text><text x="104.32" y="3.25">9</text><text x="112.80" y="0" xml:space="preserve">-</text><text transform="translate(117.88 0) scale(1 0.7)" y="0">0</text><text x="126.37 130.61" y="0" xml:space="preserve">.8</text><text x="139.10" y="3.25">7</text><text x="147.59" y="0" xml:space="preserve">)</text></g>
<g transform="translate(167.17 579.50) scale(0.9142 1)" font-family="'Liberation Sans', sans-serif" font-weight="normal" font-size="15.26" fill="#1a1a1a"><text x="0.00 10.18 13.57 22.06 32.23 37.32 45.80 50.04 53.43 56.82 65.31 70.39 74.63" y="0" xml:space="preserve">SigProfiler: </text><text transform="translate(78.87 0) scale(1 0.7)" y="0">0</text><text x="87.36 91.60" y="0" xml:space="preserve">.6</text><text transform="translate(100.08 0) scale(1 0.7)" y="0">1</text><text x="108.57" y="0" xml:space="preserve">(</text><text transform="translate(113.65 0) scale(1 0.7)" y="0">0</text><text x="122.14" y="0" xml:space="preserve">.</text><text x="126.38" y="3.25">4</text><text x="134.87 143.35" y="0" xml:space="preserve">8-</text><text transform="translate(148.43 0) scale(1 0.7)" y="0">0</text><text x="156.92" y="0" xml:space="preserve">.</text><text x="161.16" y="3.25">7</text><text x="169.65" y="3.25">3</text><text x="178.14" y="0" xml:space="preserve">)</text></g>
<g transform="translate(201.88 596.80) scale(0.9054 1)" font-family="'Liberation Sans', sans-serif" font-weight="normal" font-size="14.0" fill="#1a1a1a"><text x="0.00" y="0" xml:space="preserve">p</text></g>
<g transform="translate(210.20 598.10) scale(1.0980 1)" font-family="'Liberation Sans', sans-serif" font-weight="normal" font-size="8.9" fill="#222"><text x="0.00 6.43 11.38 16.33 21.28 26.23" y="0" xml:space="preserve">DeLong</text></g>
<g transform="translate(247.11 597.70) scale(1.0656 1)" font-family="'Liberation Sans', sans-serif" font-weight="normal" font-size="15.26" fill="#1a1a1a"><text x="0.00" y="0" xml:space="preserve">=</text></g>
<g transform="translate(259.58 596.20) scale(0.8667 1)" font-family="'Liberation Sans', sans-serif" font-weight="normal" font-size="15.26" fill="#1a1a1a"><text transform="translate(0.00 0) scale(1 0.7)" y="0">0</text><text x="8.49" y="0" xml:space="preserve">.</text><text transform="translate(12.73 0) scale(1 0.7)" y="0">0</text><text transform="translate(21.21 0) scale(1 0.7)" y="0">1</text><text x="29.70" y="3.25">3</text></g>
<g transform="translate(531.94 358.10) scale(0.9682 1)" font-family="'Liberation Sans', sans-serif" font-weight="normal" font-size="19.5" fill="#000" stroke="#000" stroke-width="0.7"><text x="0.00 13.01 26.01 39.02" y="0" xml:space="preserve">SBS8</text></g>
<g transform="translate(514.03 640.30) scale(0.9103 1)" font-family="'Liberation Sans', sans-serif" font-weight="bold" font-size="14" fill="#000"><text x="0.00 9.34 17.89 25.68 33.46 37.35 42.01 45.90 53.69 57.58 62.24 70.03 73.92 78.58 91.03" y="0" xml:space="preserve">Specificity (%)</text></g>
<g transform="translate(395.50 533.88) rotate(-90) scale(0.9303 1)" font-family="'Liberation Sans', sans-serif" font-weight="bold" font-size="14" fill="#000"><text x="0.00 9.34 17.12 25.68 33.46 37.35 42.01 45.90 53.69 57.58 62.24 70.03 73.92 78.58 91.03" y="0" xml:space="preserve">Sensitivity (%)</text></g>
<g transform="translate(415.30 605.15) scale(0.9741 1)" font-family="'Liberation Sans', sans-serif" font-weight="normal" font-size="13.1" fill="#4f4f4f"><text transform="translate(0.00 0) scale(1 0.78)" y="0">0</text></g>
<g transform="translate(408.57 549.99) scale(0.9504 1)" font-family="'Liberation Sans', sans-serif" font-weight="normal" font-size="13.1" fill="#4f4f4f"><text transform="translate(0.00 0) scale(1 0.78)" y="0">2</text><text x="7.29" y="2.43">5</text></g>
<g transform="translate(408.40 494.83) scale(0.9605 1)" font-family="'Liberation Sans', sans-serif" font-weight="normal" font-size="13.1" fill="#4f4f4f"><text x="0.00" y="2.43">5</text><text transform="translate(7.29 0) scale(1 0.78)" y="0">0</text></g>
<g transform="translate(408.98 439.68) scale(0.9214 1)" font-family="'Liberation Sans', sans-serif" font-weight="normal" font-size="13.1" fill="#4f4f4f"><text x="0.00" y="2.43">7</text><text x="7.29" y="2.43">5</text></g>
<g transform="translate(401.02 384.52) scale(0.9780 1)" font-family="'Liberation Sans', sans-serif" font-weight="normal" font-size="13.1" fill="#4f4f4f"><text transform="translate(0.00 0) scale(1 0.78)" y="0">1</text><text transform="translate(7.29 0) scale(1 0.78)" y="0">0</text><text transform="translate(14.57 0) scale(1 0.78)" y="0">0</text></g>
<g transform="translate(427.90 625.50) scale(1.0026 1)" font-family="'Liberation Sans', sans-serif" font-weight="normal" font-size="13.1" fill="#4f4f4f"><text transform="translate(0.00 0) scale(1 0.78)" y="0">1</text><text transform="translate(7.29 0) scale(1 0.78)" y="0">0</text><text transform="translate(14.57 0) scale(1 0.78)" y="0">0</text></g>
<g transform="translate(490.61 625.50) scale(0.9513 1)" font-family="'Liberation Sans', sans-serif" font-weight="normal" font-size="13.1" fill="#4f4f4f"><text x="0.00" y="2.43">7</text><text x="7.29" y="2.43">5</text></g>
<g transform="translate(549.20 625.50) scale(0.9457 1)" font-family="'Liberation Sans', sans-serif" font-weight="normal" font-size="13.1" fill="#4f4f4f"><text x="0.00" y="2.43">5</text><text transform="translate(7.29 0) scale(1 0.78)" y="0">0</text></g>
<g transform="translate(607.57 625.50) scale(0.9579 1)" font-family="'Liberation Sans', sans-serif" font-weight="normal" font-size="13.1" fill="#4f4f4f"><text transform="translate(0.00 0) scale(1 0.78)" y="0">2</text><text x="7.29" y="2.43">5</text></g>
<g transform="translate(669.38 625.50) scale(1.0220 1)" font-family="'Liberation Sans', sans-serif" font-weight="normal" font-size="13.1" fill="#4f4f4f"><text transform="translate(0.00 0) scale(1 0.78)" y="0">0</text></g>
<g transform="translate(509.76 563.20) scale(0.9145 1)" font-family="'Liberation Sans', sans-serif" font-weight="normal" font-size="15.26" fill="#1a1a1a"><text x="0.00 9.32 12.71 16.95 29.66 39.84 44.08" y="0" xml:space="preserve">FitMS: </text><text transform="translate(48.32 0) scale(1 0.7)" y="0">0</text><text x="56.81" y="0" xml:space="preserve">.</text><text x="61.05" y="3.25">7</text><text transform="translate(69.53 0) scale(1 0.7)" y="0">2</text><text x="78.02" y="0" xml:space="preserve">(</text><text transform="translate(83.10 0) scale(1 0.7)" y="0">0</text><text x="91.59" y="0" xml:space="preserve">.</text><text x="95.83" y="3.25">5</text><text x="104.32" y="3.25">9</text><text x="112.80" y="0" xml:space="preserve">-</text><text transform="translate(117.88 0) scale(1 0.7)" y="0">0</text><text x="126.37 130.61" y="0" xml:space="preserve">.8</text><text x="139.10" y="3.25">5</text><text x="147.59" y="0" xml:space="preserve">)</text></g>
<g transform="translate(510.26 579.50) scale(0.9208 1)" font-family="'Liberation Sans', sans-serif" font-weight="normal" font-size="15.26" fill="#1a1a1a"><text x="0.00 10.18 13.57 22.06 32.23 37.32 45.80 50.04 53.43 56.82 65.31 70.39 74.63" y="0" xml:space="preserve">SigProfiler: </text><text transform="translate(78.87 0) scale(1 0.7)" y="0">0</text><text x="87.36" y="0" xml:space="preserve">.</text><text x="91.60" y="3.25">4</text><text x="100.08 108.57" y="0" xml:space="preserve">8(</text><text transform="translate(113.65 0) scale(1 0.7)" y="0">0</text><text x="122.14" y="0" xml:space="preserve">.</text><text x="126.38" y="3.25">4</text><text x="134.87" y="3.25">3</text><text x="143.35" y="0" xml:space="preserve">-</text><text transform="translate(148.43 0) scale(1 0.7)" y="0">0</text><text x="156.92" y="0" xml:space="preserve">.</text><text x="161.16" y="3.25">5</text><text x="169.65" y="3.25">4</text><text x="178.14" y="0" xml:space="preserve">)</text></g>
<g transform="translate(537.88 596.80) scale(0.9054 1)" font-family="'Liberation Sans', sans-serif" font-weight="normal" font-size="14.0" fill="#1a1a1a"><text x="0.00" y="0" xml:space="preserve">p</text></g>
<g transform="translate(546.20 598.10) scale(1.0980 1)" font-family="'Liberation Sans', sans-serif" font-weight="normal" font-size="8.9" fill="#222"><text x="0.00 6.43 11.38 16.33 21.28 26.23" y="0" xml:space="preserve">DeLong</text></g>
<g transform="translate(583.41 597.70) scale(1.0656 1)" font-family="'Liberation Sans', sans-serif" font-weight="normal" font-size="15.26" fill="#1a1a1a"><text x="0.00" y="0" xml:space="preserve">=</text></g>
<g transform="translate(595.37 596.20) scale(0.8925 1)" font-family="'Liberation Sans', sans-serif" font-weight="normal" font-size="15.26" fill="#1a1a1a"><text transform="translate(0.00 0) scale(1 0.7)" y="0">0</text><text x="8.49" y="0" xml:space="preserve">.</text><text transform="translate(12.73 0) scale(1 0.7)" y="0">0</text><text transform="translate(21.21 0) scale(1 0.7)" y="0">0</text><text transform="translate(29.70 0) scale(1 0.7)" y="0">0</text><text x="38.19" y="3.25">4</text><text x="46.67" y="3.25">3</text></g>
<g transform="translate(188.98 684.30) scale(0.9268 1)" font-family="'Liberation Sans', sans-serif" font-weight="normal" font-size="19.5" fill="#000" stroke="#000" stroke-width="0.7"><text x="0.00 13.01 26.01" y="0" xml:space="preserve">SBS</text><text x="39.02" y="4.16">3</text></g>
<g transform="translate(170.13 966.00) scale(0.9103 1)" font-family="'Liberation Sans', sans-serif" font-weight="bold" font-size="14" fill="#000"><text x="0.00 9.34 17.89 25.68 33.46 37.35 42.01 45.90 53.69 57.58 62.24 70.03 73.92 78.58 91.03" y="0" xml:space="preserve">Specificity (%)</text></g>
<g transform="translate(51.60 859.58) rotate(-90) scale(0.9303 1)" font-family="'Liberation Sans', sans-serif" font-weight="bold" font-size="14" fill="#000"><text x="0.00 9.34 17.12 25.68 33.46 37.35 42.01 45.90 53.69 57.58 62.24 70.03 73.92 78.58 91.03" y="0" xml:space="preserve">Sensitivity (%)</text></g>
<g transform="translate(71.40 930.85) scale(0.9741 1)" font-family="'Liberation Sans', sans-serif" font-weight="normal" font-size="13.1" fill="#4f4f4f"><text transform="translate(0.00 0) scale(1 0.78)" y="0">0</text></g>
<g transform="translate(64.67 875.69) scale(0.9504 1)" font-family="'Liberation Sans', sans-serif" font-weight="normal" font-size="13.1" fill="#4f4f4f"><text transform="translate(0.00 0) scale(1 0.78)" y="0">2</text><text x="7.29" y="2.43">5</text></g>
<g transform="translate(64.50 820.53) scale(0.9605 1)" font-family="'Liberation Sans', sans-serif" font-weight="normal" font-size="13.1" fill="#4f4f4f"><text x="0.00" y="2.43">5</text><text transform="translate(7.29 0) scale(1 0.78)" y="0">0</text></g>
<g transform="translate(65.08 765.38) scale(0.9214 1)" font-family="'Liberation Sans', sans-serif" font-weight="normal" font-size="13.1" fill="#4f4f4f"><text x="0.00" y="2.43">7</text><text x="7.29" y="2.43">5</text></g>
<g transform="translate(57.12 710.22) scale(0.9780 1)" font-family="'Liberation Sans', sans-serif" font-weight="normal" font-size="13.1" fill="#4f4f4f"><text transform="translate(0.00 0) scale(1 0.78)" y="0">1</text><text transform="translate(7.29 0) scale(1 0.78)" y="0">0</text><text transform="translate(14.57 0) scale(1 0.78)" y="0">0</text></g>
<g transform="translate(84.00 951.20) scale(1.0026 1)" font-family="'Liberation Sans', sans-serif" font-weight="normal" font-size="13.1" fill="#4f4f4f"><text transform="translate(0.00 0) scale(1 0.78)" y="0">1</text><text transform="translate(7.29 0) scale(1 0.78)" y="0">0</text><text transform="translate(14.57 0) scale(1 0.78)" y="0">0</text></g>
<g transform="translate(146.71 951.20) scale(0.9513 1)" font-family="'Liberation Sans', sans-serif" font-weight="normal" font-size="13.1" fill="#4f4f4f"><text x="0.00" y="2.43">7</text><text x="7.29" y="2.43">5</text></g>
<g transform="translate(205.30 951.20) scale(0.9457 1)" font-family="'Liberation Sans', sans-serif" font-weight="normal" font-size="13.1" fill="#4f4f4f"><text x="0.00" y="2.43">5</text><text transform="translate(7.29 0) scale(1 0.78)" y="0">0</text></g>
<g transform="translate(263.67 951.20) scale(0.9579 1)" font-family="'Liberation Sans', sans-serif" font-weight="normal" font-size="13.1" fill="#4f4f4f"><text transform="translate(0.00 0) scale(1 0.78)" y="0">2</text><text x="7.29" y="2.43">5</text></g>
<g transform="translate(325.48 951.20) scale(1.0220 1)" font-family="'Liberation Sans', sans-serif" font-weight="normal" font-size="13.1" fill="#4f4f4f"><text transform="translate(0.00 0) scale(1 0.78)" y="0">0</text></g>
<g transform="translate(169.87 889.00) scale(0.9052 1)" font-family="'Liberation Sans', sans-serif" font-weight="normal" font-size="15.26" fill="#1a1a1a"><text x="0.00 9.32 12.71 16.95 29.66 39.84 44.08" y="0" xml:space="preserve">FitMS: </text><text transform="translate(48.32 0) scale(1 0.7)" y="0">0</text><text x="56.81" y="0" xml:space="preserve">.</text><text x="61.05" y="3.25">7</text><text transform="translate(69.53 0) scale(1 0.7)" y="0">2</text><text x="78.02" y="0" xml:space="preserve">(</text><text transform="translate(83.10 0) scale(1 0.7)" y="0">0</text><text x="91.59 95.83" y="0" xml:space="preserve">.6</text><text x="104.32" y="3.25">7</text><text x="112.80" y="0" xml:space="preserve">-</text><text transform="translate(117.88 0) scale(1 0.7)" y="0">0</text><text x="126.37" y="0" xml:space="preserve">.</text><text x="130.61" y="3.25">7</text><text x="139.10 147.59" y="0" xml:space="preserve">8)</text></g>
<g transform="translate(170.36 905.30) scale(0.9174 1)" font-family="'Liberation Sans', sans-serif" font-weight="normal" font-size="15.26" fill="#1a1a1a"><text x="0.00 10.18 13.57 22.06 32.23 37.32 45.80 50.04 53.43 56.82 65.31 70.39 74.63" y="0" xml:space="preserve">SigProfiler: </text><text transform="translate(78.87 0) scale(1 0.7)" y="0">0</text><text x="87.36" y="0" xml:space="preserve">.</text><text x="91.60" y="3.25">5</text><text x="100.08" y="3.25">3</text><text x="108.57" y="0" xml:space="preserve">(</text><text transform="translate(113.65 0) scale(1 0.7)" y="0">0</text><text x="122.14" y="0" xml:space="preserve">.</text><text x="126.38" y="3.25">5</text><text x="134.87" y="0" xml:space="preserve">-</text><text transform="translate(139.95 0) scale(1 0.7)" y="0">0</text><text x="148.43" y="0" xml:space="preserve">.</text><text x="152.67" y="3.25">5</text><text x="161.16 169.65" y="0" xml:space="preserve">6)</text></g>
<g transform="translate(195.28 923.70) scale(0.9054 1)" font-family="'Liberation Sans', sans-serif" font-weight="normal" font-size="14.0" fill="#1a1a1a"><text x="0.00" y="0" xml:space="preserve">p</text></g>
<g transform="translate(203.20 925.30) scale(1.0980 1)" font-family="'Liberation Sans', sans-serif" font-weight="normal" font-size="8.9" fill="#222"><text x="0.00 6.43 11.38 16.33 21.28 26.23" y="0" xml:space="preserve">DeLong</text></g>
<g transform="translate(240.51 924.60) scale(1.0656 1)" font-family="'Liberation Sans', sans-serif" font-weight="normal" font-size="15.26" fill="#1a1a1a"><text x="0.00" y="0" xml:space="preserve">=</text></g>
<g transform="translate(252.05 923.10) scale(0.9033 1)" font-family="'Liberation Sans', sans-serif" font-weight="normal" font-size="15.26" fill="#1a1a1a"><text transform="translate(0.00 0) scale(1 0.7)" y="0">1</text><text x="8.49" y="0" xml:space="preserve">.</text><text x="12.73" y="3.25">9</text><text x="21.21 29.70" y="0" xml:space="preserve">e-</text><text transform="translate(34.78 0) scale(1 0.7)" y="0">0</text><text x="43.27" y="0" xml:space="preserve">8</text></g>
<g transform="translate(531.94 684.30) scale(0.9682 1)" font-family="'Liberation Sans', sans-serif" font-weight="normal" font-size="19.5" fill="#000" stroke="#000" stroke-width="0.7"><text x="0.00 13.01 26.01 39.02" y="0" xml:space="preserve">SBS8</text></g>
<g transform="translate(514.03 966.00) scale(0.9103 1)" font-family="'Liberation Sans', sans-serif" font-weight="bold" font-size="14" fill="#000"><text x="0.00 9.34 17.89 25.68 33.46 37.35 42.01 45.90 53.69 57.58 62.24 70.03 73.92 78.58 91.03" y="0" xml:space="preserve">Specificity (%)</text></g>
<g transform="translate(395.50 859.58) rotate(-90) scale(0.9303 1)" font-family="'Liberation Sans', sans-serif" font-weight="bold" font-size="14" fill="#000"><text x="0.00 9.34 17.12 25.68 33.46 37.35 42.01 45.90 53.69 57.58 62.24 70.03 73.92 78.58 91.03" y="0" xml:space="preserve">Sensitivity (%)</text></g>
<g transform="translate(415.30 930.85) scale(0.9741 1)" font-family="'Liberation Sans', sans-serif" font-weight="normal" font-size="13.1" fill="#4f4f4f"><text transform="translate(0.00 0) scale(1 0.78)" y="0">0</text></g>
<g transform="translate(408.57 875.69) scale(0.9504 1)" font-family="'Liberation Sans', sans-serif" font-weight="normal" font-size="13.1" fill="#4f4f4f"><text transform="translate(0.00 0) scale(1 0.78)" y="0">2</text><text x="7.29" y="2.43">5</text></g>
<g transform="translate(408.40 820.53) scale(0.9605 1)" font-family="'Liberation Sans', sans-serif" font-weight="normal" font-size="13.1" fill="#4f4f4f"><text x="0.00" y="2.43">5</text><text transform="translate(7.29 0) scale(1 0.78)" y="0">0</text></g>
<g transform="translate(408.98 765.38) scale(0.9214 1)" font-family="'Liberation Sans', sans-serif" font-weight="normal" font-size="13.1" fill="#4f4f4f"><text x="0.00" y="2.43">7</text><text x="7.29" y="2.43">5</text></g>
<g transform="translate(401.02 710.22) scale(0.9780 1)" font-family="'Liberation Sans', sans-serif" font-weight="normal" font-size="13.1" fill="#4f4f4f"><text transform="translate(0.00 0) scale(1 0.78)" y="0">1</text><text transform="translate(7.29 0) scale(1 0.78)" y="0">0</text><text transform="translate(14.57 0) scale(1 0.78)" y="0">0</text></g>
<g transform="translate(427.90 951.20) scale(1.0026 1)" font-family="'Liberation Sans', sans-serif" font-weight="normal" font-size="13.1" fill="#4f4f4f"><text transform="translate(0.00 0) scale(1 0.78)" y="0">1</text><text transform="translate(7.29 0) scale(1 0.78)" y="0">0</text><text transform="translate(14.57 0) scale(1 0.78)" y="0">0</text></g>
<g transform="translate(490.61 951.20) scale(0.9513 1)" font-family="'Liberation Sans', sans-serif" font-weight="normal" font-size="13.1" fill="#4f4f4f"><text x="0.00" y="2.43">7</text><text x="7.29" y="2.43">5</text></g>
<g transform="translate(549.20 951.20) scale(0.9457 1)" font-family="'Liberation Sans', sans-serif" font-weight="normal" font-size="13.1" fill="#4f4f4f"><text x="0.00" y="2.43">5</text><text transform="translate(7.29 0) scale(1 0.78)" y="0">0</text></g>
<g transform="translate(607.57 951.20) scale(0.9579 1)" font-family="'Liberation Sans', sans-serif" font-weight="normal" font-size="13.1" fill="#4f4f4f"><text transform="translate(0.00 0) scale(1 0.78)" y="0">2</text><text x="7.29" y="2.43">5</text></g>
<g transform="translate(669.38 951.20) scale(1.0220 1)" font-family="'Liberation Sans', sans-serif" font-weight="normal" font-size="13.1" fill="#4f4f4f"><text transform="translate(0.00 0) scale(1 0.78)" y="0">0</text></g>
<g transform="translate(509.95 889.00) scale(0.9158 1)" font-family="'Liberation Sans', sans-serif" font-weight="normal" font-size="15.26" fill="#1a1a1a"><text x="0.00 9.32 12.71 16.95 29.66 39.84 44.08" y="0" xml:space="preserve">FitMS: </text><text transform="translate(48.32 0) scale(1 0.7)" y="0">0</text><text x="56.81" y="0" xml:space="preserve">.</text><text x="61.05" y="3.25">5</text><text x="69.53 78.02" y="0" xml:space="preserve">8(</text><text transform="translate(83.10 0) scale(1 0.7)" y="0">0</text><text x="91.59" y="0" xml:space="preserve">.</text><text x="95.83" y="3.25">5</text><text x="104.32" y="3.25">4</text><text x="112.80" y="0" xml:space="preserve">-</text><text transform="translate(117.88 0) scale(1 0.7)" y="0">0</text><text x="126.37 130.61" y="0" xml:space="preserve">.6</text><text x="139.10" y="3.25">3</text><text x="147.59" y="0" xml:space="preserve">)</text></g>
<g transform="translate(510.47 905.30) scale(0.9153 1)" font-family="'Liberation Sans', sans-serif" font-weight="normal" font-size="15.26" fill="#1a1a1a"><text x="0.00 10.18 13.57 22.06 32.23 37.32 45.80 50.04 53.43 56.82 65.31 70.39 74.63" y="0" xml:space="preserve">SigProfiler: </text><text transform="translate(78.87 0) scale(1 0.7)" y="0">0</text><text x="87.36" y="0" xml:space="preserve">.</text><text x="91.60" y="3.25">5</text><text x="100.08" y="3.25">4</text><text x="108.57" y="0" xml:space="preserve">(</text><text transform="translate(113.65 0) scale(1 0.7)" y="0">0</text><text x="122.14" y="0" xml:space="preserve">.</text><text x="126.38" y="3.25">5</text><text transform="translate(134.87 0) scale(1 0.7)" y="0">1</text><text x="143.35" y="0" xml:space="preserve">-</text><text transform="translate(148.43 0) scale(1 0.7)" y="0">0</text><text x="156.92" y="0" xml:space="preserve">.</text><text x="161.16" y="3.25">5</text><text x="169.65 178.14" y="0" xml:space="preserve">8)</text></g>
<g transform="translate(544.88 922.40) scale(0.9054 1)" font-family="'Liberation Sans', sans-serif" font-weight="normal" font-size="14.0" fill="#1a1a1a"><text x="0.00" y="0" xml:space="preserve">p</text></g>
<g transform="translate(553.20 924.00) scale(1.0980 1)" font-family="'Liberation Sans', sans-serif" font-weight="normal" font-size="8.9" fill="#222"><text x="0.00 6.43 11.38 16.33 21.28 26.23" y="0" xml:space="preserve">DeLong</text></g>
<g transform="translate(589.91 923.30) scale(1.0656 1)" font-family="'Liberation Sans', sans-serif" font-weight="normal" font-size="15.26" fill="#1a1a1a"><text x="0.00" y="0" xml:space="preserve">=</text></g>
<g transform="translate(602.45 921.80) scale(0.9152 1)" font-family="'Liberation Sans', sans-serif" font-weight="normal" font-size="15.26" fill="#1a1a1a"><text transform="translate(0.00 0) scale(1 0.7)" y="0">0</text><text x="8.49" y="0" xml:space="preserve">.</text><text transform="translate(12.73 0) scale(1 0.7)" y="0">0</text><text x="21.21" y="3.25">9</text><text transform="translate(29.70 0) scale(1 0.7)" y="0">2</text></g></g></svg></body></html>
